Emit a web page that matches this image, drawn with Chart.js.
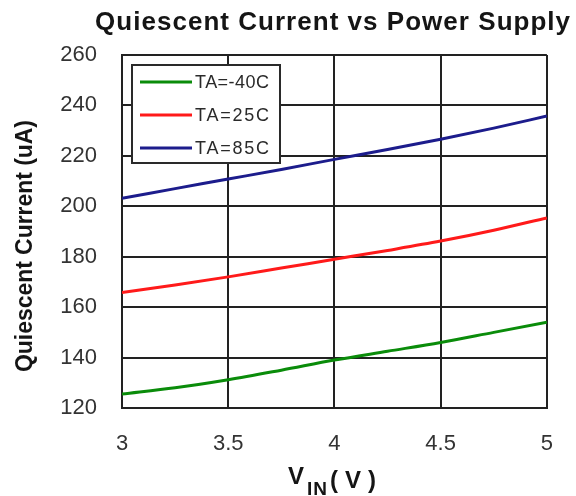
<!DOCTYPE html>
<html><head><meta charset="utf-8">
<script src="https://cdn.jsdelivr.net/npm/chart.js@4/dist/chart.umd.min.js"></script>
<style>html,body{margin:0;padding:0;background:#fff}canvas{display:block}</style>
</head><body>
<canvas id="c" width="576" height="496"></canvas>
<script>
// ---- data ----
const vin     = [3, 3.25, 3.5, 3.75, 4, 4.25, 4.5, 4.75, 5];
const ta_m40  = [125.5, 128.0, 131.2, 135.0, 139.0, 142.5, 146.0, 150.0, 154.0];
const ta_25   = [165.8, 168.8, 172.0, 175.5, 179.0, 182.5, 186.2, 190.5, 195.4];
const ta_85   = [203.2, 207.0, 210.8, 214.6, 218.6, 222.5, 226.6, 231.0, 235.8];
const seriesLabels = ['TA=-40C', 'TA=25C', 'TA=85C'];
const xTicks = [3, 3.5, 4, 4.5, 5];
const yTicks = [120, 140, 160, 180, 200, 220, 240, 260];
const titleText = 'Quiescent Current vs Power Supply';
const yTitleText = 'Quiescent Current (uA)';

const FONT = '"Liberation Sans", Arial, sans-serif';
const colors = ['#0a8c0a', '#ff1a1a', '#1c1c8c'];

function pts(ys){ return vin.map((x,i)=>({x:x, y:ys[i]})); }

function spacedText(ctx, text, x, y, target){
  ctx.letterSpacing = '0px';
  const w = ctx.measureText(text).width;
  const n = text.length;
  const ls = n > 1 ? (target - w) / (n - 1) : 0;
  ctx.letterSpacing = ls.toFixed(2) + 'px';
  ctx.fillText(text, x, y);
  ctx.letterSpacing = '0px';
}

const decor = {
  id: 'decor',
  afterDraw(chart){
    const ctx = chart.ctx;
    ctx.save();
    ctx.fillStyle = '#151515';
    ctx.textAlign = 'left';
    ctx.textBaseline = 'alphabetic';
    // main title
    ctx.font = 'bold 26px ' + FONT;
    spacedText(ctx, titleText, 95, 30, 475);
    // y title (rotated)
    ctx.save();
    ctx.translate(32, 372);
    ctx.rotate(-Math.PI/2);
    ctx.font = 'bold 23px ' + FONT;
    spacedText(ctx, yTitleText, 0, 0, 252);
    ctx.restore();
    // x title with subscript
    ctx.font = 'bold 24px ' + FONT;
    spacedText(ctx, 'V', 288, 484, 18);
    ctx.font = 'bold 19px ' + FONT;
    spacedText(ctx, 'IN', 307, 495, 20);
    ctx.font = 'bold 24px ' + FONT;
    spacedText(ctx, '(V)', 330, 488, 46);

    // legend box
    const bx = 132, by = 65, bw = 148, bh = 98;
    ctx.fillStyle = '#ffffff';
    ctx.fillRect(bx, by, bw, bh);
    ctx.strokeStyle = '#2a2a2a';
    ctx.lineWidth = 2;
    ctx.strokeRect(bx, by, bw, bh);
    chart.data.datasets.forEach((ds, i) => {
      const ry = by + 17 + i * 33;
      ctx.strokeStyle = ds.borderColor;
      ctx.lineWidth = 3;
      ctx.beginPath();
      ctx.moveTo(bx + 8, ry);
      ctx.lineTo(bx + 60, ry);
      ctx.stroke();
      ctx.fillStyle = '#2a2a2a';
      ctx.font = '18px ' + FONT;
      ctx.textBaseline = 'middle';
      spacedText(ctx, ds.label, bx + 63, ry + 1, 74);
    });
    ctx.restore();
  }
};

new Chart(document.getElementById('c'), {
  type: 'line',
  data: {
    datasets: [
      { label: seriesLabels[0], data: pts(ta_m40), borderColor: colors[0] },
      { label: seriesLabels[1], data: pts(ta_25),  borderColor: colors[1] },
      { label: seriesLabels[2], data: pts(ta_85),  borderColor: colors[2] }
    ]
  },
  options: {
    responsive: false,
    animation: false,
    devicePixelRatio: 1,
    layout: { padding: { top: 55, right: 24, left: 0, bottom: 0 } },
    elements: {
      line: { borderWidth: 3, cubicInterpolationMode: 'monotone', fill: false },
      point: { radius: 0, hoverRadius: 0 }
    },
    plugins: {
      legend: { display: false },
      title: { display: false },
      tooltip: { enabled: false }
    },
    scales: {
      x: {
        type: 'linear', min: 3, max: 5,
        afterBuildTicks: s => { s.ticks = xTicks.map(v => ({ value: v })); },
        afterFit: s => { s.height = 88; },
        grid: { color: '#222222', lineWidth: 2, drawTicks: false },
        border: { display: true, color: '#222222', width: 2 },
        ticks: {
          padding: 23, color: '#333333', maxRotation: 0,
          font: { family: FONT, size: 22 },
          callback: v => String(v)
        }
      },
      y: {
        type: 'linear', min: 120, max: 260,
        afterBuildTicks: s => { s.ticks = yTicks.map(v => ({ value: v })); },
        afterFit: s => { s.width = 122; },
        grid: { color: '#222222', lineWidth: 2, drawTicks: false },
        border: { display: true, color: '#222222', width: 2 },
        ticks: {
          padding: 25, color: '#333333',
          font: { family: FONT, size: 22 },
          callback: v => String(v)
        }
      }
    }
  },
  plugins: [decor]
});
</script>
</body></html>
